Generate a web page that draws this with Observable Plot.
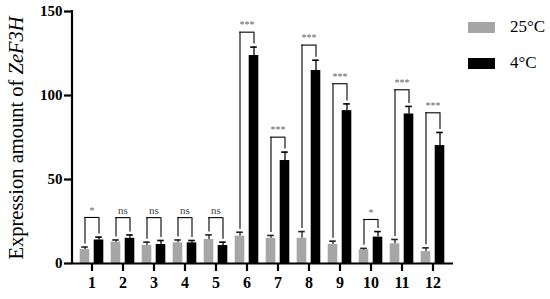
<!DOCTYPE html>
<html>
<head>
<meta charset="utf-8">
<script src="https://cdn.jsdelivr.net/npm/d3@7"></script>
<script src="https://cdn.jsdelivr.net/npm/@observablehq/plot@0.6"></script>
<style>
  body { margin: 0; background: #fff; }
  #wrap { position: relative; width: 550px; height: 299px; font-family: "Liberation Serif", "Times New Roman", serif; }
  #wrap svg text { font-family: "Liberation Serif", "Times New Roman", serif; }
  .leg { position: absolute; left: 468px; display: flex; align-items: center; font-size: 17px; color: #000; }
  .sw { width: 27px; height: 11px; margin-right: 15px; }
</style>
</head>
<body>
<div id="wrap"></div>
<script>
const categories = ["1","2","3","4","5","6","7","8","9","10","11","12"];
const warm = [8.3, 12.7, 10.7, 12.3, 14.3, 16.3, 15.0, 15.0, 11.3, 8.1, 11.7, 7.1];       // 25°C
const warmErr = [9.8, 14.0, 12.7, 14.0, 17.0, 18.6, 16.7, 19.0, 13.3, 9.0, 14.3, 9.3];
const cold = [14.0, 15.0, 11.3, 12.3, 10.7, 123.8, 61.3, 114.9, 91.0, 15.7, 89.0, 70.2];  // 4°C
const coldErr = [15.7, 17.0, 13.7, 13.7, 12.7, 128.8, 66.3, 121.0, 95.0, 19.0, 93.5, 78.0];
const sigLabels = ["*","ns","ns","ns","ns","***","***","***","***","*","***","***"];
const bracketTop = [27.4, 27.3, 27.3, 27.3, 27.3, 137.7, 75.2, 130.0, 107.0, 26.2, 103.4, 89.7];
const seriesNames = ["25°C", "4°C"];
const seriesColors = ["#a6a6a6", "#000000"];
const yTicks = [0, 50, 100, 150];

const rows = categories.map((c, i) => ({
  c, warm: warm[i], warmErr: warmErr[i], cold: cold[i], coldErr: coldErr[i],
  sig: sigLabels[i], top: bracketTop[i],
  legW: warmErr[i] + 1.8, legC: coldErr[i] + 1.8
}));

const half = 31.4 / 2;
const off = 7;
const serif = "Liberation Serif, Times New Roman, serif";

const chart = Plot.plot({
  width: 550,
  height: 299,
  marginLeft: 72,
  marginRight: 97,
  marginTop: 11,
  marginBottom: 36,
  style: "font-family: 'Liberation Serif', 'Times New Roman', serif; background: white; overflow: visible;",
  x: { type: "band", domain: categories, range: [73.5, 450.5], padding: 0, label: null },
  y: { domain: [0, 150], label: null },
  marks: [
    Plot.barY(rows, { x: "c", y: "warm", fill: seriesColors[0], insetLeft: half - 12, insetRight: half + 2 }),
    Plot.barY(rows, { x: "c", y: "cold", fill: seriesColors[1], insetLeft: half + 2, insetRight: half - 12 }),
    // error bars
    Plot.ruleX(rows, { x: "c", y1: "warm", y2: "warmErr", dx: -off, stroke: "#222", strokeWidth: 1.3 }),
    Plot.tickY(rows, { x: "c", y: "warmErr", insetLeft: half - off - 3.5, insetRight: half + off - 3.5, stroke: "#222", strokeWidth: 1.6 }),
    Plot.ruleX(rows, { x: "c", y1: "cold", y2: "coldErr", dx: off, stroke: "#000", strokeWidth: 1.3 }),
    Plot.tickY(rows, { x: "c", y: "coldErr", insetLeft: half + off - 3.5, insetRight: half - off - 3.5, stroke: "#000", strokeWidth: 1.6 }),
    // significance brackets
    Plot.ruleX(rows, { x: "c", y1: "legW", y2: "top", dx: -off, stroke: "#000", strokeWidth: 1.1 }),
    Plot.ruleX(rows, { x: "c", y1: "legC", y2: "top", dx: off, stroke: "#000", strokeWidth: 1.1 }),
    Plot.tickY(rows, { x: "c", y: "top", insetLeft: half - off - 0.5, insetRight: half - off - 0.5, stroke: "#000", strokeWidth: 1.1 }),
    Plot.text(rows, { x: "c", y: "top", text: "sig", dy: -7, fontFamily: serif, fontSize: d => d.sig === "ns" ? 11 : 10, fill: d => d.sig === "ns" ? "#444" : "#666" }),
    // axes
    Plot.ruleY([0], { stroke: "#000", strokeWidth: 2.2 }),
    Plot.axisY({ ticks: yTicks, tickSize: 8, tickPadding: 2, fontSize: 15, fontWeight: "bold", fontFamily: serif, strokeWidth: 2.2, label: null }),
    Plot.axisX({ tickSize: 8, tickPadding: 5, fontSize: 16, fontWeight: "bold", fontFamily: serif, strokeWidth: 2.2, label: null })
  ]
});

// y axis line
const svg = d3.select(chart);
svg.append("line").attr("x1", 72).attr("x2", 72).attr("y1", 10).attr("y2", 264)
  .attr("stroke", "#000").attr("stroke-width", 2.2);

// y label with italic gene name
const lab = svg.append("text")
  .attr("transform", "translate(23,138) rotate(-90)")
  .attr("text-anchor", "middle")
  .attr("font-family", serif)
  .attr("font-size", 20.5)
  .attr("fill", "#000");
lab.append("tspan").text("Expression amount of ");
lab.append("tspan").attr("font-style", "italic").text("ZeF3H");

const wrap = document.getElementById("wrap");
wrap.appendChild(chart);

seriesNames.forEach((name, i) => {
  const d = document.createElement("div");
  d.className = "leg";
  d.style.top = (i === 0 ? 17 : 53) + "px";
  const sw = document.createElement("div");
  sw.className = "sw";
  sw.style.background = seriesColors[i];
  const t = document.createElement("span");
  t.textContent = name;
  d.appendChild(sw); d.appendChild(t);
  wrap.appendChild(d);
});
</script>
</body>
</html>
